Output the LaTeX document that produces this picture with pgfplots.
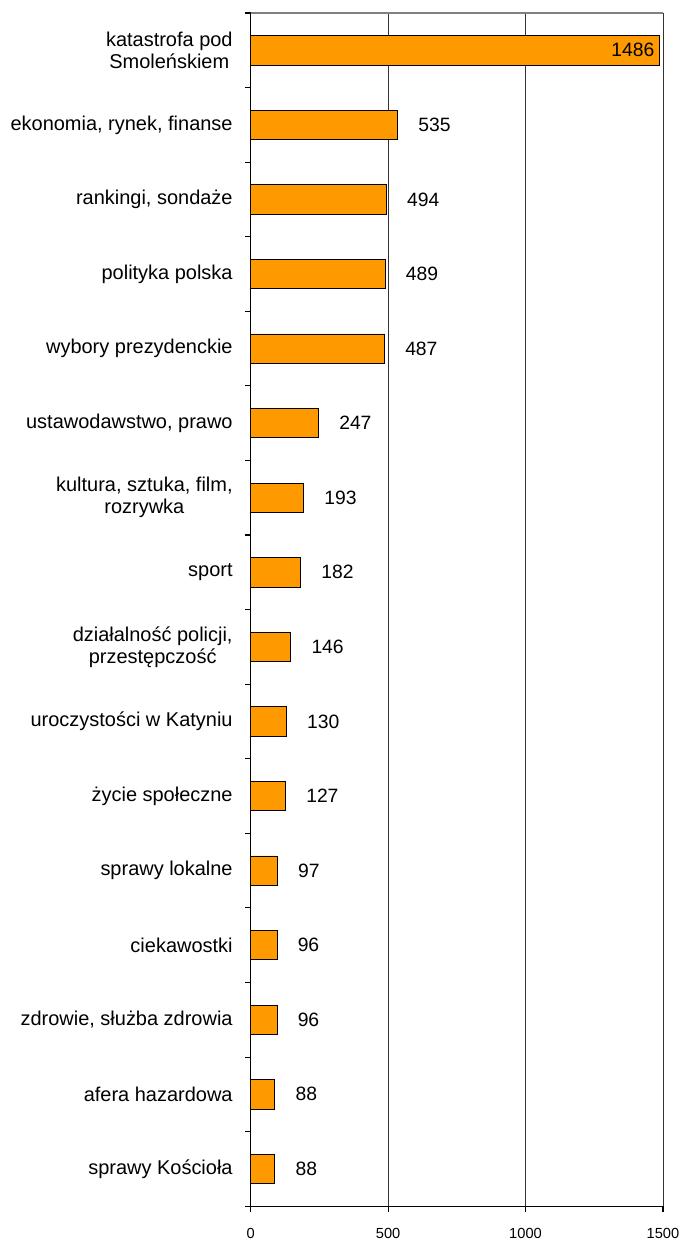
\documentclass[border=0pt]{standalone}
\usepackage{fontspec}
\setmainfont{Liberation Sans}
\usepackage{pgfplots}
\pgfplotsset{compat=1.18}
\definecolor{barorange}{RGB}{255,153,0}

\begin{document}
\begin{tikzpicture}
% keep the white margins of the reference
\path (-188.25pt,-26.25pt) rectangle (325.5pt,906pt);
\begin{axis}[
    scale only axis,
    width=309.75pt,
    height=896.25pt,
    xbar,
    bar width=22pt,
    xmin=0, xmax=1500,
    ymin=0.5, ymax=16.5,
    y dir=reverse,
    axis lines*=left,
    axis line style={line width=1pt},
    xtick={0,500,1000,1500},
    xmajorgrids,
    major grid style={black!80, line width=0.6pt},
    tick align=outside,
    major tick length=4pt,
    minor tick length=4pt,
    ytick={1,...,16},
    major y tick style={draw=none},
    minor ytick={0.5,1.5,...,16.5},
    minor y tick style={black, line width=0.8pt},
    x tick style={black, line width=0.8pt},
    yticklabels={{katastrofa pod\\Smoleńskiem},{ekonomia, rynek, finanse},{rankingi, sondaże},{polityka polska},{wybory prezydenckie},{ustawodawstwo, prawo},{kultura, sztuka, film,\\rozrywka},{sport},{działalność policji,\\przestępczość},{uroczystości w Katyniu},{życie społeczne},{sprawy lokalne},{ciekawostki},{zdrowie, służba zdrowia},{afera hazardowa},{sprawy Kościoła}},
    yticklabel style={font=\fontsize{15}{16.5}\selectfont, align=center, xshift=-6pt},
    xticklabel style={font=\fontsize{11}{13}\selectfont, yshift=-9pt},
    /pgf/number format/assume math mode=true,
    /pgf/number format/1000 sep={},
    extra y ticks={0.5},
    extra y tick labels={},
    extra y tick style={grid=major, major grid style={gray, line width=0.8pt}, major tick length=0pt},
    clip=false,
]
\addplot[bar shift=0pt, fill=barorange, draw=black, line width=0.5pt,
    nodes near coords, nodes near coords align={anchor=east},
    every node near coord/.append style={font=\fontsize{14.5}{16}\selectfont}]
    coordinates {(1486,1)};
\addplot[bar shift=0pt, fill=barorange, draw=black, line width=0.5pt,
    nodes near coords,
    every node near coord/.append style={font=\fontsize{14.5}{16}\selectfont, anchor=west, xshift=12pt}]
    coordinates {
    (535,2) (494,3) (489,4) (487,5) (247,6) (193,7) (182,8) (146,9)
    (130,10) (127,11) (97,12) (96,13) (96,14) (88,15) (88,16)
    };
\end{axis}
\end{tikzpicture}
\end{document}
